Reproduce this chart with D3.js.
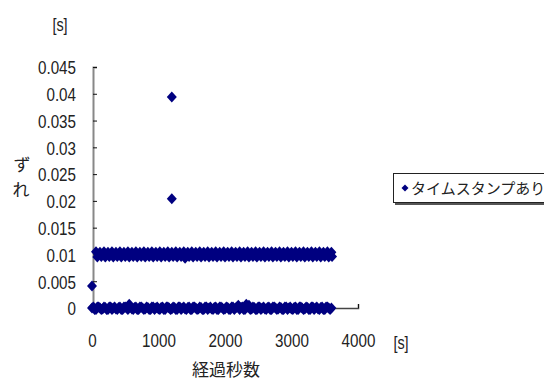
<!DOCTYPE html>
<html>
<head>
<meta charset="utf-8">
<script src="https://cdn.jsdelivr.net/npm/d3@7"></script>
<style>
  body { margin: 0; background: #fff; }
  .tick text { font-family: "Liberation Sans", sans-serif; font-size: 19px; fill: #222; }
  .jp { font-family: "Noto Sans CJK JP", sans-serif; fill: #222; }
</style>
</head>
<body>
<div id="chart"></div>
<script>
const seriesName = 'タイムスタンプあり';
const xTicks = [0, 1000, 2000, 3000, 4000];
const yTicks = [0, 0.005, 0.01, 0.015, 0.02, 0.025, 0.03, 0.035, 0.04, 0.045];
const yTickLabels = ['0', '0.005', '0.01', '0.015', '0.02', '0.025', '0.03', '0.035', '0.04', '0.045'];

// elapsed seconds of the samples
const lowTimes = [0, 40, 80, 120, 160, 200, 240, 280, 320, 360, 400, 440, 480, 520, 560, 600, 640, 680, 720, 760,
  800, 840, 880, 920, 960, 1000, 1040, 1080, 1120, 1160, 1200, 1240, 1280, 1320, 1360, 1400, 1440, 1480, 1520, 1560,
  1600, 1640, 1680, 1720, 1760, 1800, 1840, 1880, 1920, 1960, 2000, 2040, 2080, 2120, 2160, 2200, 2240, 2280, 2320, 2360,
  2400, 2440, 2480, 2520, 2560, 2600, 2640, 2680, 2720, 2760, 2800, 2840, 2880, 2920, 2960, 3000, 3040, 3080, 3120, 3160,
  3200, 3240, 3280, 3320, 3360, 3400, 3440, 3480, 3520, 3560, 3600];
const lowValues = [0, -0.0003, 0.0002, 0, -0.0002, 0.0001, -0.0003, 0.0002, 0, -0.0002, 0.0001, -0.0003, 0.0002, 0, 0.0007, -0.0002, 0.0001, -0.0003, 0.0002, 0,
  -0.0002, 0.0001, -0.0003, 0.0002, 0, -0.0002, 0.0001, -0.0003, 0.0002, 0, -0.0002, 0.0001, -0.0003, 0.0002, 0, -0.0002, 0.0001, -0.0003, 0.0002, 0,
  -0.0002, 0.0001, -0.0003, 0.0002, 0, -0.0002, 0.0001, -0.0003, 0.0002, 0, -0.0002, 0.0001, -0.0003, 0.0002, 0, 0.0005, 0.0001, -0.0003, 0.0007, 0.0005,
  -0.0002, 0.0001, -0.0003, 0.0002, 0, -0.0002, 0.0001, -0.0003, 0.0002, 0, -0.0002, 0.0001, -0.0003, 0.0002, 0, -0.0002, 0.0001, -0.0003, 0.0002, 0,
  -0.0002, 0.0001, -0.0003, 0.0002, 0, -0.0002, 0.0001, -0.0003, 0.0002, 0, 0];
const lowTimesB = [20, 60, 100, 140, 180, 220, 260, 300, 340, 380, 420, 460, 500, 540, 580, 620, 660, 700, 740, 780,
  820, 860, 900, 940, 980, 1020, 1060, 1100, 1140, 1180, 1220, 1260, 1300, 1340, 1380, 1420, 1460, 1500, 1540, 1580,
  1620, 1660, 1700, 1740, 1780, 1820, 1860, 1900, 1940, 1980, 2020, 2060, 2100, 2140, 2180, 2220, 2260, 2300, 2340, 2380,
  2420, 2460, 2500, 2540, 2580, 2620, 2660, 2700, 2740, 2780, 2820, 2860, 2900, 2940, 2980, 3020, 3060, 3100, 3140, 3180,
  3220, 3260, 3300, 3340, 3380, 3420, 3460, 3500, 3540, 3580];
const lowValuesB = [0.0002, -0.0003, 0.0002, -0.0003, 0.0002, -0.0003, 0.0002, -0.0003, 0.0002, -0.0003, 0.0002, -0.0003, 0.0002, -0.0003, 0.0002, -0.0003, 0.0002, -0.0003, 0.0002, -0.0003,
  0.0002, -0.0003, 0.0002, -0.0003, 0.0002, -0.0003, 0.0002, -0.0003, 0.0002, -0.0003, 0.0002, -0.0003, 0.0002, -0.0003, 0.0002, -0.0003, 0.0002, -0.0003, 0.0002, -0.0003,
  0.0002, -0.0003, 0.0002, -0.0003, 0.0002, -0.0003, 0.0002, -0.0003, 0.0002, -0.0003, 0.0002, -0.0003, 0.0002, -0.0003, 0.0002, -0.0003, 0.0002, -0.0003, 0.0002, -0.0003,
  0.0002, -0.0003, 0.0002, -0.0003, 0.0002, -0.0003, 0.0002, -0.0003, 0.0002, -0.0003, 0.0002, -0.0003, 0.0002, -0.0003, 0.0002, -0.0003, 0.0002, -0.0003, 0.0002, -0.0003,
  0.0002, -0.0003, 0.0002, -0.0003, 0.0002, -0.0003, 0.0002, -0.0003, 0.0002, -0.0003];
const highTimes = [60, 80, 120, 140, 180, 200, 240, 260, 300, 320, 360, 380, 420, 440, 480, 500, 540, 560, 600, 620,
  660, 680, 720, 740, 780, 800, 840, 860, 900, 920, 960, 980, 1020, 1040, 1080, 1100, 1140, 1160, 1200, 1220,
  1260, 1280, 1320, 1340, 1380, 1400, 1440, 1460, 1500, 1520, 1560, 1580, 1620, 1640, 1680, 1700, 1740, 1760, 1800, 1820,
  1860, 1880, 1920, 1940, 1980, 2000, 2040, 2060, 2100, 2120, 2160, 2180, 2220, 2240, 2280, 2300, 2340, 2360, 2400, 2420,
  2460, 2480, 2520, 2540, 2580, 2600, 2640, 2660, 2700, 2720, 2760, 2780, 2820, 2840, 2880, 2900, 2940, 2960, 3000, 3020,
  3060, 3080, 3120, 3140, 3180, 3200, 3240, 3260, 3300, 3320, 3360, 3380, 3420, 3440, 3480, 3500, 3540, 3560, 3600, 3610];
const highValues = [0.0105, 0.0095, 0.0104, 0.0096, 0.0105, 0.0095, 0.0104, 0.0096, 0.0105, 0.0095, 0.0104, 0.0096, 0.0105, 0.0095, 0.0104, 0.0096, 0.0105, 0.0095, 0.0104, 0.0096,
  0.0105, 0.0095, 0.0104, 0.0096, 0.0105, 0.0095, 0.0104, 0.0096, 0.0105, 0.0095, 0.0104, 0.0096, 0.0105, 0.0095, 0.0104, 0.0096, 0.0105, 0.0095, 0.0104, 0.0096,
  0.0105, 0.0095, 0.0104, 0.0096, 0.0105, 0.0093, 0.0104, 0.0096, 0.0105, 0.0095, 0.0104, 0.0096, 0.0105, 0.0095, 0.0104, 0.0096, 0.0105, 0.0095, 0.0104, 0.0096,
  0.0105, 0.0095, 0.0104, 0.0096, 0.0105, 0.0095, 0.0104, 0.0096, 0.0105, 0.0095, 0.0104, 0.0096, 0.0105, 0.0095, 0.0104, 0.0096, 0.0105, 0.0095, 0.0104, 0.0096,
  0.0105, 0.0095, 0.0104, 0.0096, 0.0105, 0.0095, 0.0104, 0.0096, 0.0105, 0.0095, 0.0104, 0.0096, 0.0105, 0.0095, 0.0104, 0.0096, 0.0105, 0.0095, 0.0104, 0.0096,
  0.0105, 0.0095, 0.0104, 0.0096, 0.0105, 0.0095, 0.0104, 0.0096, 0.0105, 0.0095, 0.0104, 0.0096, 0.0105, 0.0095, 0.0104, 0.0096, 0.0105, 0.0095, 0.0104, 0.0096];
const outlierTimes = [0, 1200, 1200];
const outlierValues = [0.0041, 0.0204, 0.0394];

const width = 544, height = 383;
const plot = { left: 92, right: 358, top: 67, bottom: 308 };
const color = '#000080';
const narrow = 0.8;

const svg = d3.select('#chart').append('svg')
  .attr('width', width)
  .attr('height', height);

const x = d3.scaleLinear().domain([0, 4000]).range([plot.left, plot.right]);
const y = d3.scaleLinear().domain([0, 0.045]).range([plot.bottom, plot.top]);

// squeeze tick labels horizontally to look like the condensed original font
function condense(sel) {
  sel.each(function () {
    const t = d3.select(this);
    const tx = +t.attr('x') || 0;
    const ty = +t.attr('y') || 0;
    t.attr('x', 0).attr('y', 0)
      .attr('transform', `translate(${tx},${ty}) scale(${narrow},1)`);
  });
}

// y axis
const yAxis = svg.append('g')
  .attr('transform', `translate(${plot.left + 1},0)`)
  .call(d3.axisLeft(y).tickValues(yTicks).tickSize(-4).tickPadding(17)
    .tickFormat((d, i) => yTickLabels[i]));
yAxis.select('.domain').attr('stroke', '#888').attr('stroke-width', 2);
yAxis.selectAll('.tick line').attr('stroke', '#111');
yAxis.selectAll('.tick text').attr('dy', '0.36em').call(condense);

// x axis
const xAxis = svg.append('g')
  .attr('transform', `translate(0,${plot.bottom})`)
  .call(d3.axisBottom(x).tickValues(xTicks).tickSize(-4).tickPadding(26)
    .tickFormat(d3.format('d')));
xAxis.select('.domain').attr('stroke', '#444').attr('stroke-width', 1.5);
xAxis.selectAll('.tick line').attr('stroke', '#111');
xAxis.selectAll('.tick text').call(condense);

// points
const diamond = 'M0,-5.5L5,0L0,5.5L-5,0Z';
const points = [];
lowTimes.forEach((t, i) => points.push([t, lowValues[i]]));
lowTimesB.forEach((t, i) => points.push([t, lowValuesB[i]]));
highTimes.forEach((t, i) => points.push([t, highValues[i]]));
outlierTimes.forEach((t, i) => points.push([t, outlierValues[i]]));

svg.append('g').selectAll('path')
  .data(points)
  .enter()
  .append('path')
  .attr('d', diamond)
  .attr('transform', d => `translate(${x(d[0])},${y(d[1])})`)
  .attr('fill', color);

// unit labels
svg.append('text')
  .attr('transform', `translate(60,31) scale(${narrow},1)`)
  .attr('text-anchor', 'middle')
  .style('font-family', '"Liberation Sans", sans-serif')
  .style('font-size', '18px').style('fill', '#222')
  .text('[s]');
svg.append('text')
  .attr('transform', `translate(401,349) scale(${narrow},1)`)
  .attr('text-anchor', 'middle')
  .style('font-family', '"Liberation Sans", sans-serif')
  .style('font-size', '18px').style('fill', '#222')
  .text('[s]');

// axis titles
svg.append('text').attr('class', 'jp')
  .attr('x', 226).attr('y', 376)
  .attr('text-anchor', 'middle')
  .style('font-size', '17px')
  .text('経過秒数');
svg.append('text').attr('class', 'jp')
  .attr('x', 22).attr('y', 171)
  .attr('text-anchor', 'middle')
  .style('font-size', '17px')
  .text('ず');
svg.append('text').attr('class', 'jp')
  .attr('x', 21).attr('y', 196)
  .attr('text-anchor', 'middle')
  .style('font-size', '17px')
  .text('れ');

// legend
const legend = svg.append('g');
legend.append('rect')
  .attr('x', 395).attr('y', 175).attr('width', 160).attr('height', 30)
  .attr('fill', '#555');
legend.append('rect')
  .attr('x', 393.5).attr('y', 173.5).attr('width', 160).attr('height', 29)
  .attr('fill', '#fff').attr('stroke', '#222').attr('stroke-width', 1);
legend.append('path')
  .attr('d', 'M0,-3.5L3.5,0L0,3.5L-3.5,0Z')
  .attr('transform', 'translate(405,188)')
  .attr('fill', color);
legend.append('text').attr('class', 'jp')
  .attr('x', 411).attr('y', 194)
  .style('font-size', '15px')
  .text(seriesName);
</script>
</body>
</html>
